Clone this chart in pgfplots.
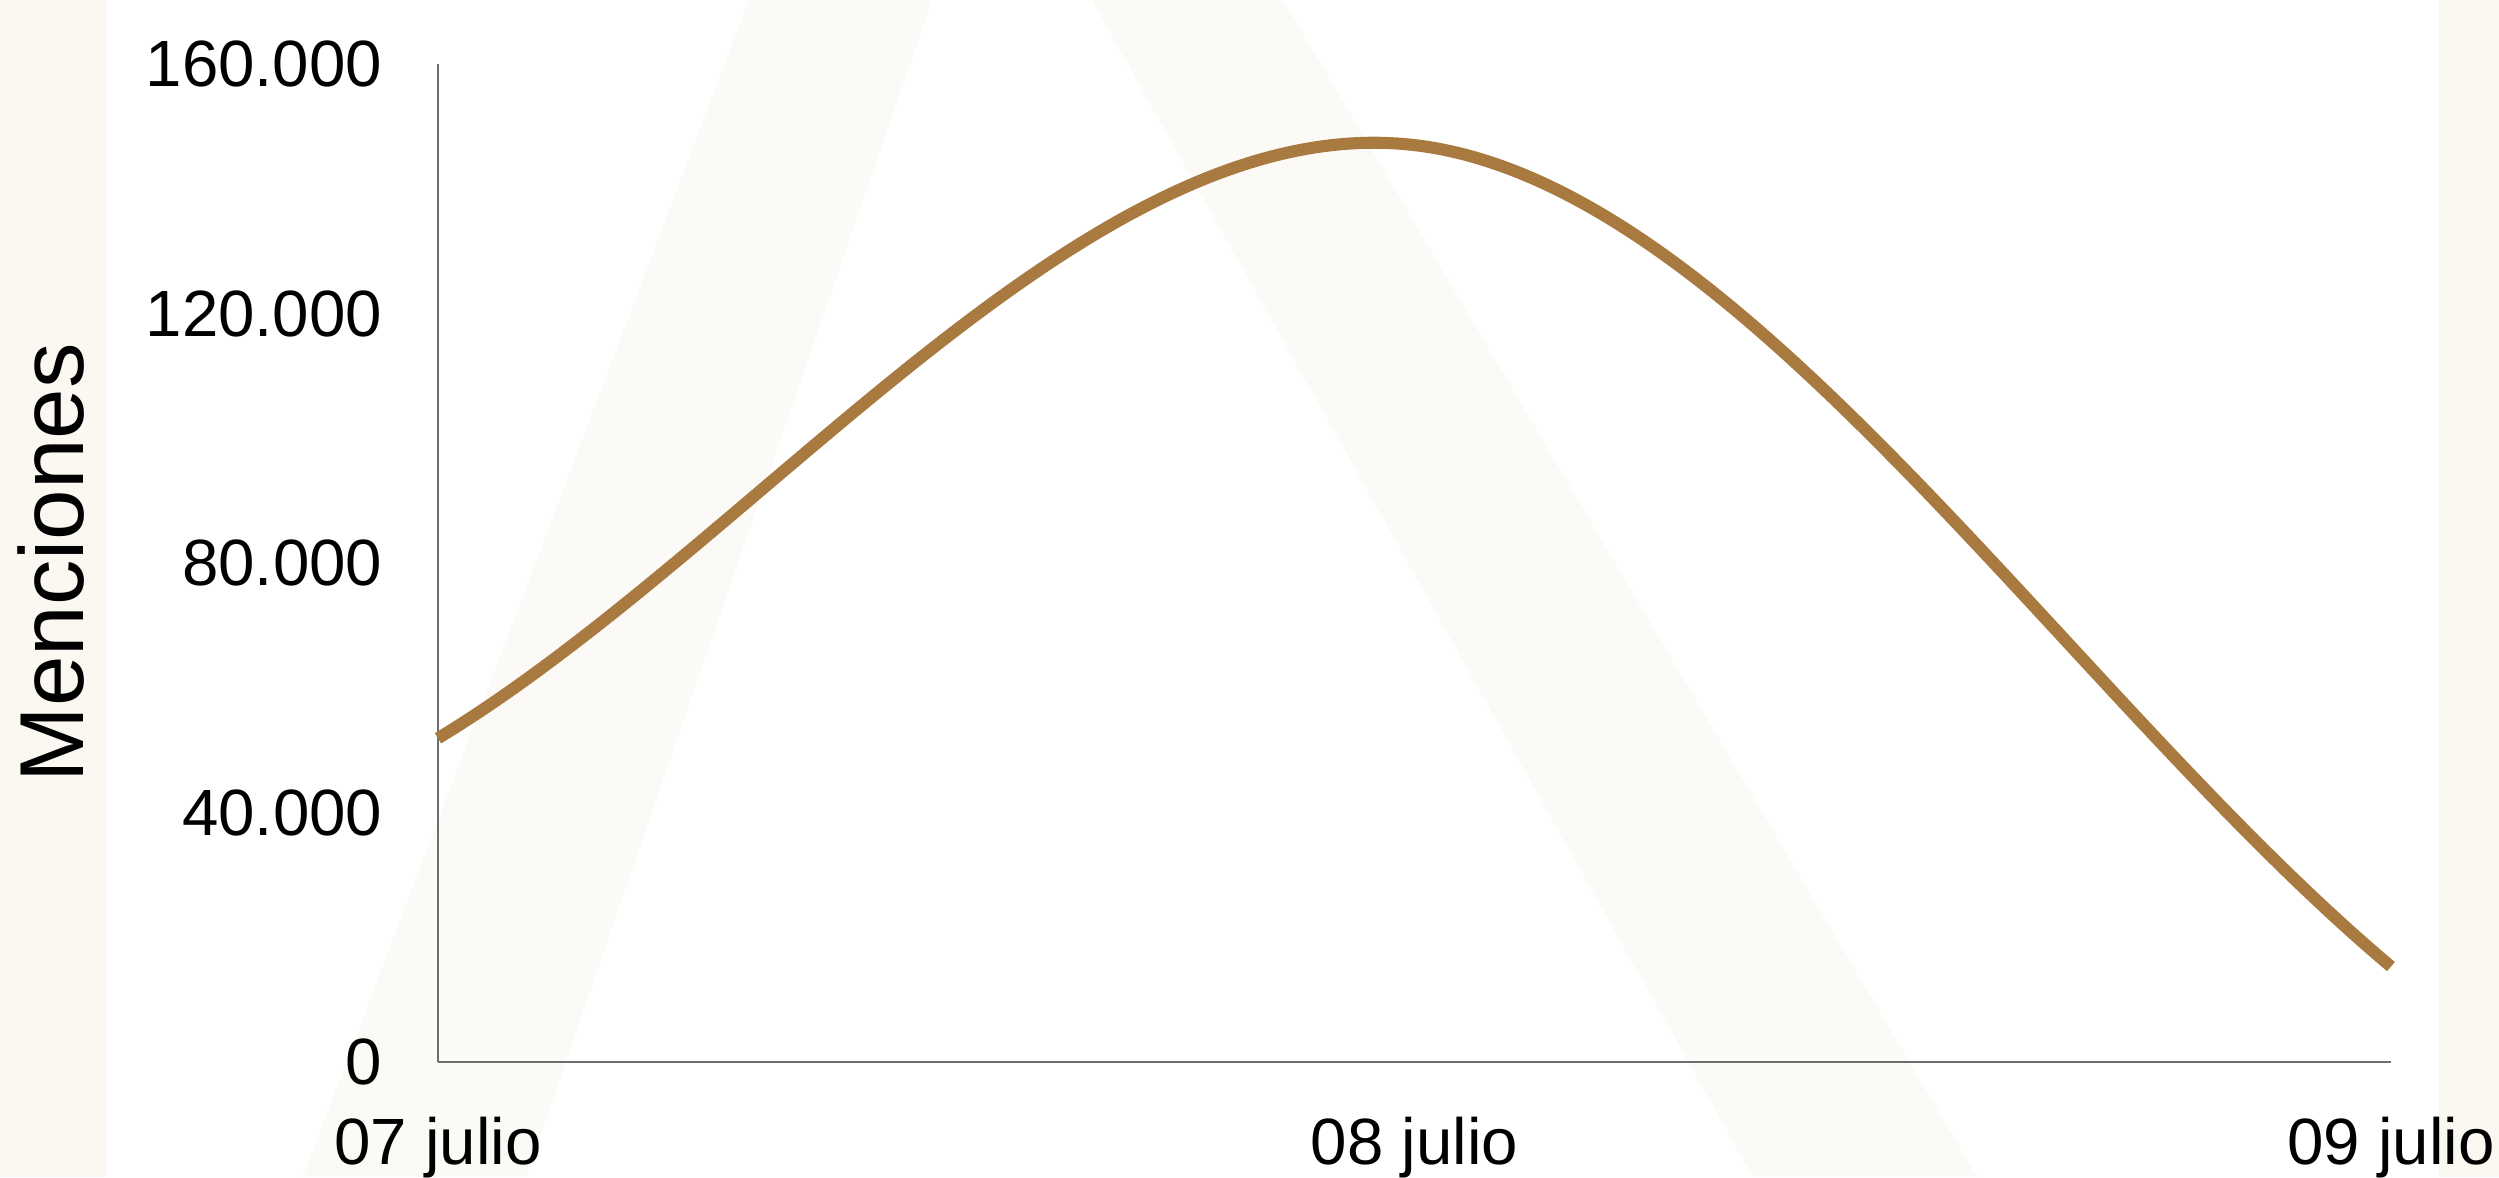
\documentclass[border=0pt]{standalone}
\usepackage{pgfplots}
\pgfplotsset{compat=1.18}
\usepackage{fontspec}
\setmainfont{Liberation Sans}

\definecolor{linebrown}{RGB}{168,122,64}
\definecolor{bgbeige}{RGB}{251,248,242}
\definecolor{bandbeige}{RGB}{252,250,246}
\definecolor{axisgray}{RGB}{110,110,110}

% Catmull-Rom plot handler, end tangents taken from the first/last chord
\makeatletter
\newcount\crs@n \newcount\crs@i \newcount\crs@j
\newcount\crs@a \newcount\crs@b \newcount\crs@k
\newdimen\crs@cx \newdimen\crs@cy \newdimen\crs@dx \newdimen\crs@dy
\def\crs@point#1{%
  \pgf@process{#1}%
  \global\advance\crs@n by 1
  \expandafter\xdef\csname crs@x\the\crs@n\endcsname{\the\pgf@x}%
  \expandafter\xdef\csname crs@y\the\crs@n\endcsname{\the\pgf@y}%
}
\def\crs@tangent#1{%
  \crs@a=#1 \advance\crs@a by 1 \ifnum\crs@a>\crs@n \crs@a=\crs@n\fi
  \crs@b=#1 \advance\crs@b by -1 \ifnum\crs@b<1 \crs@b=1 \fi
  \crs@k=\crs@a \advance\crs@k by -\crs@b \multiply\crs@k by 3
  \crs@dx=\csname crs@x\the\crs@a\endcsname
  \advance\crs@dx by -\csname crs@x\the\crs@b\endcsname
  \divide\crs@dx by \crs@k
  \crs@dy=\csname crs@y\the\crs@a\endcsname
  \advance\crs@dy by -\csname crs@y\the\crs@b\endcsname
  \divide\crs@dy by \crs@k
}
\def\crs@end{%
  \ifnum\crs@n>1
    \pgfpathmoveto{\pgfqpoint{\csname crs@x1\endcsname}{\csname crs@y1\endcsname}}%
    \crs@i=1
    \loop\ifnum\crs@i<\crs@n
      \crs@j=\crs@i \advance\crs@j by 1
      \crs@tangent{\crs@i}%
      \crs@cx=\csname crs@x\the\crs@i\endcsname \advance\crs@cx by \crs@dx
      \crs@cy=\csname crs@y\the\crs@i\endcsname \advance\crs@cy by \crs@dy
      \edef\crs@ca{\noexpand\pgfqpoint{\the\crs@cx}{\the\crs@cy}}%
      \crs@tangent{\crs@j}%
      \crs@cx=\csname crs@x\the\crs@j\endcsname \advance\crs@cx by -\crs@dx
      \crs@cy=\csname crs@y\the\crs@j\endcsname \advance\crs@cy by -\crs@dy
      \edef\crs@cb{\noexpand\pgfqpoint{\the\crs@cx}{\the\crs@cy}}%
      \edef\crs@pe{\noexpand\pgfqpoint{\csname crs@x\the\crs@j\endcsname}{\csname crs@y\the\crs@j\endcsname}}%
      \pgfpathcurveto{\crs@ca}{\crs@cb}{\crs@pe}%
      \advance\crs@i by 1
    \repeat
  \fi
}
\def\pgfplothandlercrspline{%
  \def\pgf@plotstreamstart{%
    \global\crs@n=0
    \global\let\pgf@plotstreampoint=\crs@point
    \global\let\pgf@plotstreamspecial=\pgfutil@gobble
    \global\let\pgf@plotstreamend=\crs@end
  }%
}
\tikzset{crspline/.code={\let\tikz@plot@handler=\pgfplothandlercrspline}}
\makeatother

\begin{document}
\begin{tikzpicture}[x=0.24pt,y=0.24pt]
% page size 2499 x 1177 units
\useasboundingbox (0,0) rectangle (2499,1177);
\fill[bgbeige] (0,0) rectangle (2499,1177);
\fill[white] (107,0) rectangle (2439,1177);
% faint watermark bands
\fill[bandbeige] (303,0) -- (526,0) -- (932,1177) -- (749,1177) -- cycle;
\fill[bandbeige] (1092,1177) -- (1283,1177) -- (1977,0) -- (1753,0) -- cycle;

\begin{axis}[
    at={(105.12pt,27.6pt)},
    anchor=origin,
    scale only axis,
    width=468.72pt,
    height=239.52pt,
    xmin=0, xmax=2,
    ymin=0, ymax=160000,
    axis lines=left,
    axis line style={axisgray, line width=0.5pt, -},
    major tick length=0pt,
    scaled y ticks=false,
    xtick={0,1,2},
    xticklabels={07 julio, 08 julio, 09 julio},
    ytick={0,40000,80000,120000,160000},
    yticklabels={0, 40.000, 80.000, 120.000, 160.000},
    tick label style={font=\fontsize{15.7}{18}\selectfont, inner sep=0pt},
    yticklabel style={anchor=east, xshift=-13.2pt},
    xticklabel style={anchor=north, yshift=-13pt},
    ylabel={Menciones},
    ylabel style={font=\fontsize{21.8}{26}\selectfont,
        at={(axis description cs:-0.1982,0.5)}, anchor=center, inner sep=0pt},
    clip=false,
]
\addplot[linebrown, line width=2.9pt, crspline] coordinates {
    (0, 51900) (1, 147000) (2, 15300)
};
\end{axis}
\end{tikzpicture}
\end{document}
